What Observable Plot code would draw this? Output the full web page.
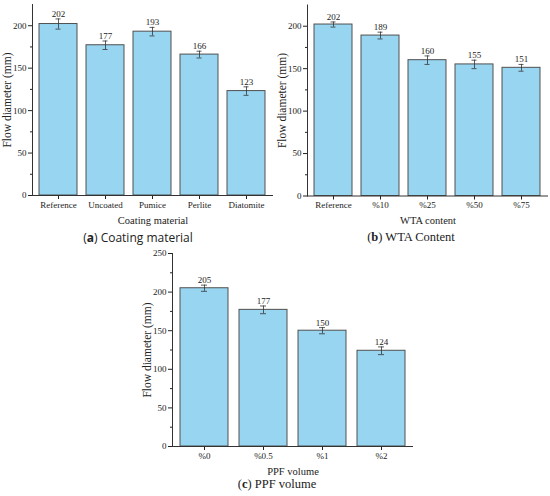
<!DOCTYPE html>
<html>
<head>
<meta charset="utf-8">
<script src="https://cdn.jsdelivr.net/npm/d3@7"></script>
<script src="https://cdn.jsdelivr.net/npm/@observablehq/plot@0.6"></script>
<style>
  body { margin: 0; background: #fff; }
  #root { position: relative; width: 550px; height: 496px; overflow: hidden; background: #fff; }
  .panel { position: absolute; }
  .cap { position: absolute; white-space: nowrap; transform: translate(-50%, -50%); color: #222; }
  .serif { font-family: "Liberation Serif", "DejaVu Serif", serif; font-size: 12.5px; }
  .sans { font-family: "Open Sans", "Noto Sans", sans-serif; font-size: 12px; }
</style>
</head>
<body>
<div id="root"></div>
<script>
// ---- data ----
const coatingCats = ["Reference", "Uncoated", "Pumice", "Perlite", "Diatomite"];
const coatingVals = [202, 177, 193, 166, 123];
const coatingErr = [6, 5, 5, 4, 5];

const wtaCats = ["Reference", "%10", "%25", "%50", "%75"];
const wtaVals = [202, 189, 160, 155, 151];
const wtaErr = [3, 4, 5, 5, 4];

const ppfCats = ["%0", "%0.5", "%1", "%2"];
const ppfVals = [205, 177, 150, 124];
const ppfErr = [4, 5, 4, 5];

const yTicksAB = [0, 50, 100, 150, 200];
const yTicksC = [0, 50, 100, 150, 200, 250];
const yTitle = "Flow diameter (mm)";

const FILL = "#97d5f1";
const STROKE = "#505050";
const FONT = "Liberation Serif, DejaVu Serif, serif";

function panel({cats, vals, errs, yMax, yTicks, xLabel, width, height, mLeft, mTop, mBottom, capInset}) {
  const data = cats.map((c, i) => ({cat: c, v: vals[i], e: errs[i]}));
  const minor = d3.range(25, yMax, 50);
  return Plot.plot({
    width, height,
    marginLeft: mLeft, marginRight: 2, marginTop: mTop, marginBottom: mBottom,
    style: {fontFamily: FONT, fontSize: "9px", color: "#222", background: "white", overflow: "visible"},
    x: {domain: cats, paddingInner: 0.19, paddingOuter: 0.13, label: null},
    y: {domain: [0, yMax], label: null},
    marks: [
      Plot.barY(data, {x: "cat", y: "v", fill: FILL, stroke: STROKE, strokeWidth: 1}),
      Plot.ruleX(data, {x: "cat", y1: d => d.v - d.e, y2: d => d.v + d.e, stroke: "#333", strokeWidth: 0.8}),
      Plot.tickY(data, {x: "cat", y: d => d.v - d.e, stroke: "#333", strokeWidth: 0.8, insetLeft: capInset, insetRight: capInset}),
      Plot.tickY(data, {x: "cat", y: d => d.v + d.e, stroke: "#333", strokeWidth: 0.8, insetLeft: capInset, insetRight: capInset}),
      Plot.text(data, {x: "cat", y: d => d.v + d.e, text: d => String(d.v), dy: -5, fontSize: 9, fill: "#222"}),
      Plot.axisY({ticks: yTicks, tickSize: 4, tickPadding: 2, fontSize: 9, label: null}),
      Plot.axisY({ticks: minor, tickSize: 2, text: null, label: null}),
      Plot.axisX({tickSize: 4, tickPadding: 2, fontSize: 9, label: null}),
      Plot.text([xLabel], {frameAnchor: "bottom", lineAnchor: "middle", dy: 25, fontSize: 10.5, fill: "#222"}),
      Plot.text([yTitle], {frameAnchor: "left", textAnchor: "middle", lineAnchor: "middle", rotate: -90, dx: -25, fontSize: 11.5, fill: "#222"}),
      Plot.frame({anchor: "left", stroke: "#333", strokeWidth: 1}),
      Plot.ruleY([0], {stroke: "#333", strokeWidth: 1})
    ]
  });
}

const root = document.getElementById("root");
function place(el, left, top) {
  const d = document.createElement("div");
  d.className = "panel";
  d.style.left = left + "px";
  d.style.top = top + "px";
  d.appendChild(el);
  root.appendChild(d);
}
function caption(letter, rest, cx, cy, cls) {
  const d = document.createElement("div");
  d.className = "cap " + cls;
  d.style.left = cx + "px";
  d.style.top = cy + "px";
  d.innerHTML = "(<b>" + letter + "</b>) " + rest;
  root.appendChild(d);
}

const pa = panel({cats: coatingCats, vals: coatingVals, errs: coatingErr, yMax: 225, yTicks: yTicksAB,
  xLabel: "Coating material", width: 275, height: 228, mLeft: 32, mTop: 4, mBottom: 33, capInset: 16.5});
place(pa, 0, 0);

const pb = panel({cats: wtaCats, vals: wtaVals, errs: wtaErr, yMax: 225, yTicks: yTicksAB,
  xLabel: "WTA content", width: 275, height: 228, mLeft: 32, mTop: 4.5, mBottom: 32.5, capInset: 16.5});
place(pb, 275, 0);

const pc = panel({cats: ppfCats, vals: ppfVals, errs: ppfErr, yMax: 250, yTicks: yTicksC,
  xLabel: "PPF volume", width: 285, height: 233, mLeft: 42, mTop: 8, mBottom: 32, capInset: 21});
place(pc, 130, 245);

caption("a", "Coating material", 138, 237, "sans");
caption("b", "WTA Content", 411, 237, "serif");
caption("c", "PPF volume", 277, 484, "serif");
</script>
</body>
</html>
